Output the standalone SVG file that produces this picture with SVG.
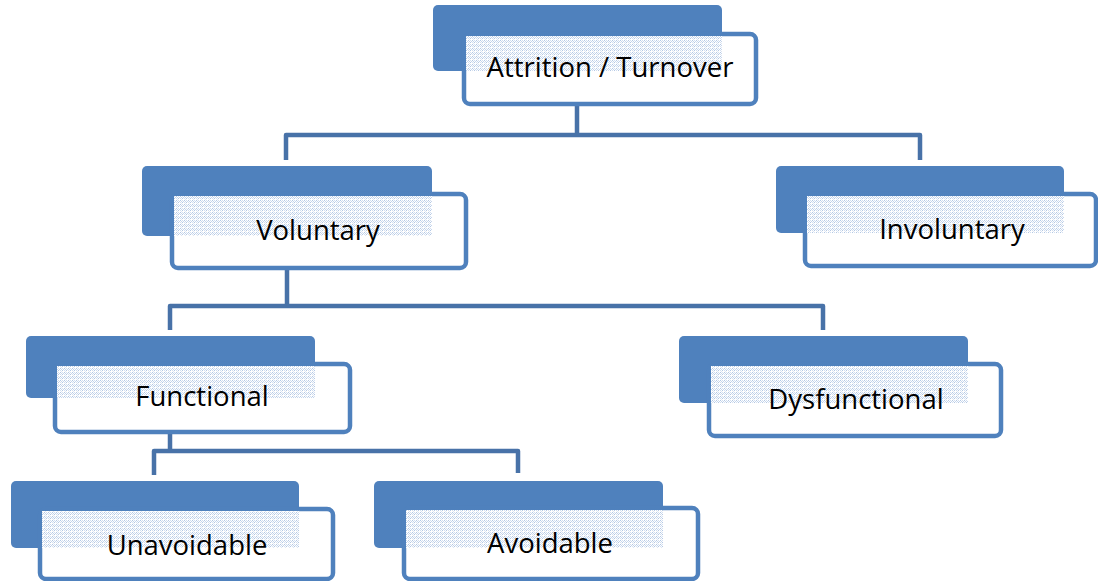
<svg xmlns="http://www.w3.org/2000/svg" width="1098" height="581" viewBox="0 0 1098 581">
  <defs>
    <pattern id="dots" width="4" height="4" patternUnits="userSpaceOnUse">
      <rect width="4" height="4" fill="#ffffff"/>
      <rect x="0" y="0" width="1" height="1" fill="#b4c8e4"/>
      <rect x="2" y="0" width="1" height="1" fill="#d3dff0"/>
      <rect x="1" y="1" width="1" height="1" fill="#c6d6ec"/>
      <rect x="3" y="1" width="1" height="1" fill="#c6d6ec"/>
      <rect x="0" y="2" width="1" height="1" fill="#d3dff0"/>
      <rect x="2" y="2" width="1" height="1" fill="#b4c8e4"/>
      <rect x="1" y="3" width="1" height="1" fill="#dde6f3"/>
    </pattern>
    <style>
      .back { fill: #4f81bd; }
      .front { fill: #ffffff; stroke: #4f81bd; stroke-width: 4.5; }
      .tint { fill: url(#dots); }
      .lbl { font-family: "Open Sans", "Liberation Sans", sans-serif; font-size: 27.5px; fill: #000000; text-anchor: middle; }
      .conn { fill: none; stroke: #4872a8; stroke-width: 4.5; stroke-linejoin: round; }
    </style>
  </defs>

  <g id="connectors">
    <path class="conn" d="M577,106 V135 M286,160 V135 H920 V160"/>
    <path class="conn" d="M287,270 V306 M170,330 V306 H823 V330"/>
    <path class="conn" d="M170,434 V451 M154,475 V451 H518 V473"/>
  </g>

  <g id="node-attrition">
    <rect class="back" x="433" y="5" width="289" height="66" rx="5"/>
    <rect class="front" x="464" y="34" width="292" height="70" rx="6"/>
    <rect class="tint" x="466" y="36" width="256" height="35"/>
    <text class="lbl" x="610" y="77">Attrition / Turnover</text>
  </g>

  <g id="node-voluntary">
    <rect class="back" x="142" y="166" width="290" height="70" rx="5"/>
    <rect class="front" x="172" y="194" width="294" height="74" rx="6"/>
    <rect class="tint" x="174" y="196" width="258" height="40"/>
    <text class="lbl" x="318" y="240">Voluntary</text>
  </g>

  <g id="node-involuntary">
    <rect class="back" x="776" y="166" width="288" height="67" rx="5"/>
    <rect class="front" x="805" y="194" width="291" height="72" rx="6"/>
    <rect class="tint" x="807" y="196" width="257" height="37"/>
    <text class="lbl" x="952" y="239">Involuntary</text>
  </g>

  <g id="node-functional">
    <rect class="back" x="26" y="336" width="289" height="62" rx="5"/>
    <rect class="front" x="55" y="364" width="295" height="68" rx="6"/>
    <rect class="tint" x="57" y="366" width="258" height="32"/>
    <text class="lbl" x="202" y="406">Functional</text>
  </g>

  <g id="node-dysfunctional">
    <rect class="back" x="679" y="336" width="289" height="67" rx="5"/>
    <rect class="front" x="709" y="364" width="292" height="72" rx="6"/>
    <rect class="tint" x="711" y="366" width="257" height="37"/>
    <text class="lbl" x="856" y="409">Dysfunctional</text>
  </g>

  <g id="node-unavoidable">
    <rect class="back" x="11" y="481" width="288" height="67" rx="5"/>
    <rect class="front" x="40" y="509" width="293" height="70" rx="6"/>
    <rect class="tint" x="42" y="511" width="257" height="37"/>
    <text class="lbl" x="187" y="555">Unavoidable</text>
  </g>

  <g id="node-avoidable">
    <rect class="back" x="374" y="481" width="289" height="67" rx="5"/>
    <rect class="front" x="404" y="508" width="294" height="71" rx="6"/>
    <rect class="tint" x="406" y="510" width="257" height="38"/>
    <text class="lbl" x="550" y="553">Avoidable</text>
  </g>
</svg>
